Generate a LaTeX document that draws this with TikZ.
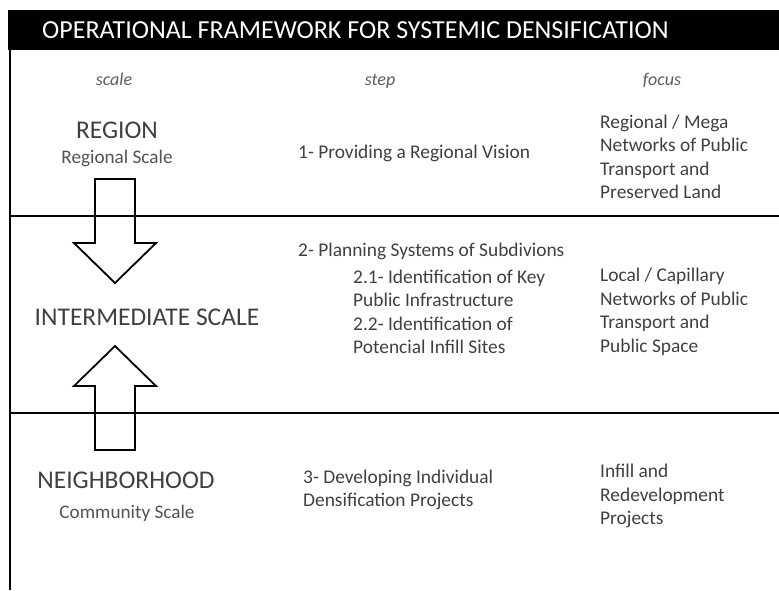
\documentclass[tikz,border=0pt]{standalone}
\usepackage{fontspec}
\setmainfont{Carlito}
\usetikzlibrary{positioning}
\definecolor{textGray}{RGB}{64,64,64}
\tikzset{%
  headerText/.style={text=white, font=\fontsize{26}{30}\selectfont, anchor=west, inner sep=0pt},
  columnHead/.style={text=textGray!85, font=\itshape\fontsize{18}{21}\selectfont, anchor=base, inner sep=0pt},
  scaleName/.style={text=textGray, font=\fontsize{25.5}{30}\selectfont, inner sep=0pt},
  scaleSub/.style={text=textGray!90, font=\fontsize{19.2}{23}\selectfont, inner sep=0pt},
  stepText/.style={text=textGray, font=\fontsize{19.4}{23.5}\selectfont, align=left, anchor=west, inner sep=0pt},
  % ---
  frameLine/.style={line width=1.6pt, black},
  blockArrow/.style={line width=1.8pt, black, line join=miter}}

\begin{document}
\begin{tikzpicture}[x=1pt,y=-1pt]
        \useasboundingbox (0,0) rectangle (779,590);

        %Header
        \fill[black] (8,10) rectangle (779,50);
        \node[headerText] (title) at (42,30) {OPERATIONAL FRAMEWORK FOR SYSTEMIC DENSIFICATION};

        %Nodes
        \node[columnHead] (scaleHead) at (114,85) {scale};
        \node[columnHead] (stepHead) at (380,85) {step};
        \node[columnHead] (focusHead) at (662,85) {focus};

        \node[scaleName] (region) at (117,130) {REGION};
        \node[scaleSub] (regionSub) at (117,158) {Regional Scale};
        \node[scaleName] (intermediate) at (147,317) {INTERMEDIATE SCALE};
        \node[scaleName] (neighborhood) at (126,480) {NEIGHBORHOOD};
        \node[scaleSub] (neighborhoodSub) at (127,513) {Community Scale};

        \node[stepText] (step1) at (298,153) {1- Providing a Regional Vision};
        \node[stepText] (step2) at (298,251) {2- Planning Systems of Subdivions};
        \node[stepText] (step2sub) at (353,312) {2.1- Identification of Key\\Public Infrastructure\\2.2- Identification of\\Potencial Infill Sites};
        \node[stepText] (step3) at (303,490) {3- Developing Individual\\Densification Projects};

        \node[stepText] (focus1) at (600,157) {Regional / Mega\\Networks of Public\\Transport and\\Preserved Land};
        \node[stepText] (focus2) at (600,312) {Local / Capillary\\Networks of Public\\Transport and\\Public Space};
        \node[stepText] (focus3) at (600,496) {Infill and\\Redevelopment\\Projects};

        %Lines
        \draw[frameLine] (10,50) -- (10,590);
        \draw[frameLine] (10,216) -- (779,216);
        \draw[frameLine] (10,413) -- (779,413);

        %Arrows
        \draw[blockArrow] (95,179) -- (135,179) -- (135,243) -- (156,243) -- (115,283) -- (74,243) -- (95,243) -- cycle;
        \draw[blockArrow] (115,346) -- (156,386) -- (135,386) -- (135,450) -- (95,450) -- (95,386) -- (74,386) -- cycle;
\end{tikzpicture}
\end{document}
